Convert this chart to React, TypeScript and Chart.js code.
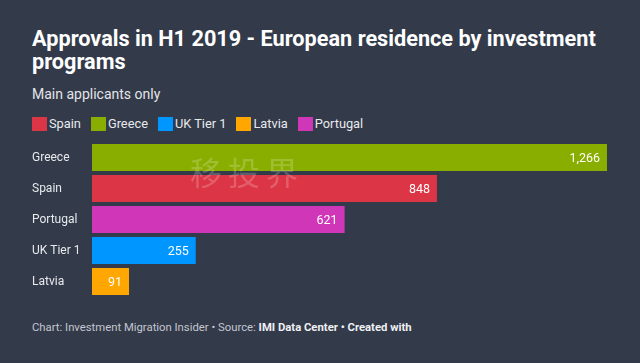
import React, { useEffect, useRef } from "react";
import { Chart, registerables } from "chart.js";

Chart.register(...registerables);

const categories = ["Greece", "Spain", "Portugal", "UK Tier 1", "Latvia"];
const approvals = [1266, 848, 621, 255, 91];
const barColors = ["#8aae00", "#dc3545", "#cf37b8", "#0096ff", "#ffa600"];
const legendLabels = ["Spain", "Greece", "UK Tier 1", "Latvia", "Portugal"];
const legendColors = ["#dc3545", "#8aae00", "#0096ff", "#ffa600", "#cf37b8"];

const BG = "#333a4a";
const FONT = "Roboto, 'Noto Sans', sans-serif";

const valueLabels = {
  id: "valueLabels",
  afterDatasetsDraw(chart: any) {
    const ctx = chart.ctx;
    const meta = chart.getDatasetMeta(0);
    const data = chart.data.datasets[0].data;
    ctx.save();
    ctx.font = `12.5px ${FONT}`;
    ctx.fillStyle = "#ffffff";
    ctx.textAlign = "right";
    ctx.textBaseline = "middle";
    meta.data.forEach((bar: any, i: number) => {
      const v = data[i] as number;
      ctx.fillText(v.toLocaleString("en-US"), bar.x - 7, bar.y + 1);
    });
    ctx.restore();
  },
};

export default function App() {
  const canvasRef = useRef<HTMLCanvasElement | null>(null);

  useEffect(() => {
    const chart = new Chart(canvasRef.current as HTMLCanvasElement, {
      type: "bar",
      data: {
        labels: categories,
        datasets: [
          {
            data: approvals,
            backgroundColor: barColors,
            barPercentage: 1,
            categoryPercentage: 0.87,
          },
        ],
      },
      options: {
        indexAxis: "y",
        animation: false,
        responsive: false,
        maintainAspectRatio: false,
        layout: { padding: 0 },
        plugins: {
          legend: { display: false },
          tooltip: { enabled: false },
          title: { display: false },
        },
        scales: {
          x: {
            display: false,
            min: 0,
            max: 1266,
          },
          y: {
            grid: { display: false },
            border: { display: false },
            ticks: {
              color: "#e8e9ec",
              font: { family: FONT, size: 12 },
              crossAlign: "far",
              padding: 0,
            },
            afterFit(scale: any) {
              scale.width = 60;
              scale.paddingTop = 0;
              scale.paddingBottom = 0;
            },
          },
        },
      },
      plugins: [valueLabels],
    });
    return () => chart.destroy();
  }, []);

  return (
    <div
      style={{
        position: "fixed",
        left: 0,
        top: 0,
        width: 640,
        height: 363,
        background: BG,
        fontFamily: FONT,
        overflow: "hidden",
      }}
    >
      <div
        style={{
          position: "absolute",
          left: 32,
          top: 27,
          width: 590,
          fontSize: 21.7,
          fontWeight: 700,
          lineHeight: "23px",
          color: "#ffffff",
        }}
      >
        Approvals in H1 2019 - European residence by investment programs
      </div>
      <div
        style={{
          position: "absolute",
          left: 32,
          top: 86,
          fontSize: 14,
          lineHeight: "17px",
          color: "#e3e5e9",
        }}
      >
        Main applicants only
      </div>
      <div
        style={{
          position: "absolute",
          left: 32,
          top: 115,
          display: "flex",
          alignItems: "center",
          fontSize: 12.8,
          lineHeight: "17px",
          color: "#e8e9ec",
        }}
      >
        {legendLabels.map((l, i) => (
          <div
            key={l}
            style={{ display: "flex", alignItems: "center", marginRight: 10 }}
          >
            <span
              style={{
                display: "inline-block",
                width: 15,
                height: 14,
                background: legendColors[i],
                marginRight: 2,
              }}
            />
            <span>{l}</span>
          </div>
        ))}
      </div>
      <canvas
        ref={canvasRef}
        width={575}
        height={155}
        style={{ position: "absolute", left: 32, top: 142, width: 575, height: 155 }}
      />
      <div
        style={{
          position: "absolute",
          left: 190,
          top: 151,
          fontFamily: "'Noto Sans CJK SC', sans-serif",
          fontSize: 32,
          letterSpacing: 6,
          color: "rgba(255,255,255,0.2)",
          pointerEvents: "none",
          lineHeight: "40px",
        }}
      >
        移投界
      </div>
      <div
        style={{
          position: "absolute",
          left: 32,
          top: 321,
          fontSize: 11.3,
          lineHeight: "14px",
          color: "#c3c7cf",
        }}
      >
        Chart: Investment Migration Insider • Source:{" "}
        <b style={{ color: "#eef0f3" }}>IMI Data Center • Created with</b>
      </div>
    </div>
  );
}
